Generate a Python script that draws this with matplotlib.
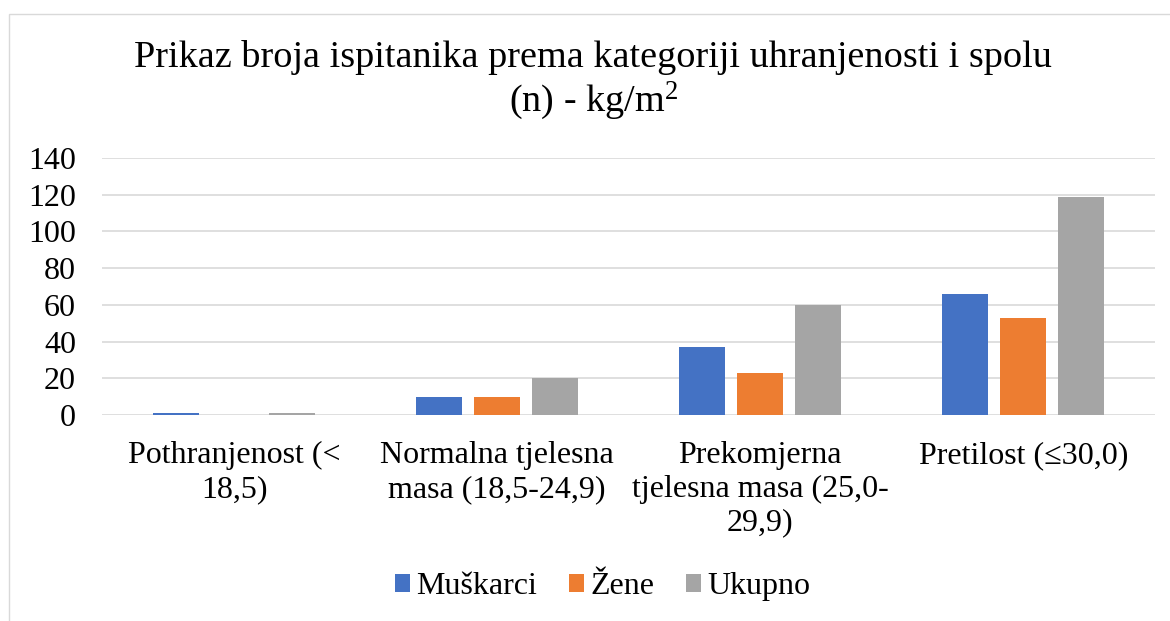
import matplotlib.pyplot as plt
import numpy as np
from matplotlib.patches import Rectangle

plt.rcParams['font.family'] = ['Liberation Serif', 'DejaVu Serif']
plt.rcParams['mathtext.fontset'] = 'custom'
plt.rcParams['mathtext.rm'] = 'Liberation Serif'
plt.rcParams['mathtext.it'] = 'Liberation Serif:italic'
plt.rcParams['mathtext.bf'] = 'Liberation Serif:bold'

categories = ["Pothranjenost (<\n18,5)", "Normalna tjelesna\nmasa (18,5-24,9)",
              "Prekomjerna\ntjelesna masa (25,0-\n29,9)", "Pretilost (≤30,0)"]
series_names = ["Muškarci", "Žene", "Ukupno"]
muskarci = [1, 10, 37, 66]
zene = [0, 10, 23, 53]
ukupno = [1, 20, 60, 119]
colors = ["#4472c4", "#ed7d31", "#a5a5a5"]

fig = plt.figure(figsize=(11.7, 6.21), dpi=100)
fig.patches.append(Rectangle((9 / 1170, -0.1), 1.2, 1 - 14 / 621 + 0.1,
                             transform=fig.transFigure, fill=False,
                             edgecolor="#d9d9d9", linewidth=1))
ax = fig.add_axes([0.0876, 0.3317, 0.8995, 0.4139])

x = np.arange(len(categories))
w = 0.175
step = 0.22
for i, (vals, name) in enumerate(zip([muskarci, zene, ukupno], series_names)):
    ax.bar(x + (i - 1) * step, vals, width=w, color=colors[i], label=name, zorder=3)

ax.set_xlim(-0.5, len(categories) - 0.5)
ax.set_ylim(0, 140)
ax.set_yticks(range(0, 141, 20))
ax.grid(axis="y", color="#d9d9d9", linewidth=1.2, zorder=0)
for s in ax.spines.values():
    s.set_visible(False)
ax.tick_params(axis="both", length=0, labelsize=23)
ax.tick_params(axis="y", pad=19)
ax.tick_params(axis="x", pad=19)
ax.set_xticks(x)
ax.set_xticklabels(categories, linespacing=1.2)

fig.text(0.507, 0.87, "Prikaz broja ispitanika prema kategoriji uhranjenosti i spolu\n(n) - kg/m$^2$",
         ha="center", va="center", fontsize=27.5, linespacing=1.15)

fig.legend(loc="center", bbox_to_anchor=(0.515, 0.055), ncol=3, frameon=False,
           fontsize=23, handlelength=0.47, handleheight=0.47, handletextpad=0.2,
           columnspacing=1.0)

fig.savefig("out.png", dpi=100)
